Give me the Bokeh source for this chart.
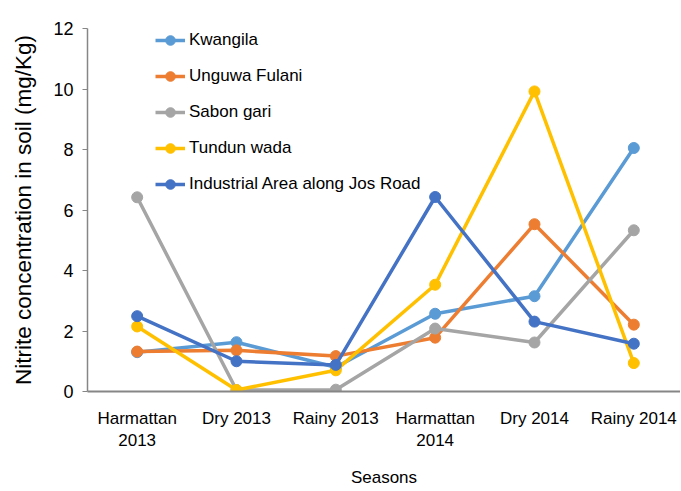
from bokeh.plotting import figure
from bokeh.models import Range1d, FixedTicker, Legend, LegendItem
from bokeh.embed import file_html
from bokeh.resources import INLINE

seasons = ["Harmattan\n2013", "Dry 2013", "Rainy 2013", "Harmattan\n2014", "Dry 2014", "Rainy 2014"]
kwangila = [1.30, 1.63, 0.80, 2.57, 3.15, 8.05]
unguwa_fulani = [1.32, 1.36, 1.17, 1.78, 5.53, 2.21]
sabon_gari = [6.42, 0.05, 0.06, 2.08, 1.62, 5.33]
tundun_wada = [2.15, 0.05, 0.70, 3.53, 9.92, 0.94]
industrial = [2.49, 1.00, 0.88, 6.43, 2.31, 1.58]

series = [
    ("Kwangila", kwangila, "#5B9BD5"),
    ("Unguwa Fulani", unguwa_fulani, "#ED7D31"),
    ("Sabon gari", sabon_gari, "#A5A5A5"),
    ("Tundun wada", tundun_wada, "#FFC000"),
    ("Industrial Area along Jos Road", industrial, "#4472C4"),
]

FONT = "'Liberation Sans', Arial, sans-serif"

xs = list(range(len(seasons)))

p = figure(width=680, height=490, output_backend="svg", toolbar_location=None,
           x_range=Range1d(-0.5, 5.47), y_range=Range1d(0, 12),
           min_border_left=87, min_border_right=0, min_border_top=28, min_border_bottom=99)
p.outline_line_color = None
p.xgrid.visible = False
p.ygrid.visible = False
p.background_fill_color = "white"

items = []
for name, vals, col in series:
    ln = p.line(xs, vals, line_color=col, line_width=3.5)
    # small marker (used for the legend swatch), hidden beneath the full-size one
    sm = p.scatter(xs, vals, size=7, fill_color=col, line_color=col)
    p.scatter(xs, vals, size=11, fill_color=col, line_color=col)
    items.append(LegendItem(label=name, renderers=[ln, sm]))

legend = Legend(items=items, location=(68, 195))
legend.label_text_font = FONT
legend.label_text_font_size = "17px"
legend.label_text_color = "#000000"
legend.label_height = 24
legend.glyph_height = 24
legend.glyph_width = 30
legend.label_standoff = 4
legend.spacing = 12
legend.padding = 0
legend.margin = 0
legend.border_line_alpha = 0
legend.background_fill_alpha = 0
p.add_layout(legend)

# x axis
p.xaxis.ticker = FixedTicker(ticks=xs)
p.xaxis.major_label_overrides = {i: s for i, s in enumerate(seasons)}
p.xaxis.major_tick_line_color = None
p.xaxis.minor_tick_line_color = None
p.xaxis.axis_line_color = "#868686"
p.xaxis.axis_line_width = 2
p.xaxis.major_label_text_font = FONT
p.xaxis.major_label_text_font_size = "17px"
p.xaxis.major_label_text_color = "#000000"
p.xaxis.major_label_standoff = 11
p.xaxis.axis_label = "Seasons"
p.xaxis.axis_label_text_font = FONT
p.xaxis.axis_label_text_font_size = "17px"
p.xaxis.axis_label_text_font_style = "normal"
p.xaxis.axis_label_text_color = "#000000"
p.xaxis.axis_label_standoff = 15

# y axis
p.yaxis.ticker = FixedTicker(ticks=[0, 2, 4, 6, 8, 10, 12])
p.yaxis.minor_tick_line_color = None
p.yaxis.major_tick_in = 0
p.yaxis.major_tick_out = 5
p.yaxis.major_tick_line_color = "#868686"
p.yaxis.axis_line_color = "#868686"
p.yaxis.axis_line_width = 1.5
p.yaxis.major_label_text_font = FONT
p.yaxis.major_label_text_font_size = "18px"
p.yaxis.major_label_text_color = "#000000"
p.yaxis.major_label_standoff = 9
p.yaxis.axis_label = "Nitrite concentration in soil (mg/Kg)"
p.yaxis.axis_label_text_font = FONT
p.yaxis.axis_label_text_font_size = "22.5px"
p.yaxis.axis_label_text_font_style = "normal"
p.yaxis.axis_label_text_color = "#000000"
p.yaxis.axis_label_standoff = 14

open("out.html", "w").write(file_html(p, INLINE))
